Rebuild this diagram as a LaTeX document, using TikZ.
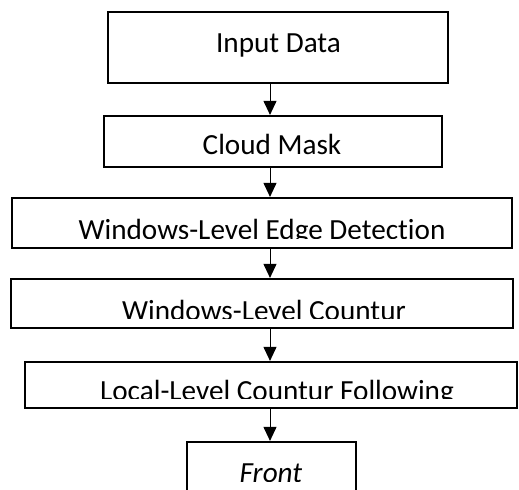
\documentclass[tikz,border=0pt]{standalone}
\usepackage{fontspec}
\setmainfont[Ligatures={NoCommon}]{Carlito}
\usetikzlibrary{arrows.meta}
\usetikzlibrary{fit}

\tikzset{
  riquadro/.style={draw, line width=1.1pt, inner sep=0pt},
  testo/.style={anchor=base, inner sep=0pt, font=\fontsize{14.6pt}{17pt}\selectfont},
  freccia/.style={-{Triangle[length=7pt,width=6.5pt]}, line width=0.5pt}
}

\begin{document}
\begin{tikzpicture}[x=0.5pt,y=-0.5pt]

\def\blocco(#1,#2,#3,#4,#5,#6,#7,#8){ % nome, angolo alto-sinistra, angolo basso-destra, base del testo, testo
\coordinate (#1-no) at (#2,#3);
\coordinate (#1-se) at (#4,#5);
%Traccia il riquadro
\node[riquadro, fit=(#1-no)(#1-se)] (#1) {};
%Il testo viene tagliato 10px sopra il bordo inferiore (come nella casella di testo)
\begin{scope}
\clip (#2,#3) rectangle (#4,{#5-10});
\node[testo] (#1-t) at (#6,#7) {#8};
\end{scope}}

%Fissa i margini (pixel del disegno)
\path[use as bounding box, fill=white] (0,0) rectangle (519,489);

%Disegna i blocchi
\blocco(b1,108,12,448,83,278.5,52,Input Data)
\blocco(b2,104,116,442,167,272,154,Cloud Mask)
\blocco(b3,12,198,512,248,262,239,Windows-Level Edge Detection)
\blocco(b4,11,279,513,328,264,320,Windows-Level Countur)
\blocco(b5,25,362,517,408,277,400,Local-Level Countur Following)
\blocco(b6,187,442,356,491,271,482,\textit{Front})

%Disegna le frecce
\coordinate (asse) at (270,0);
\foreach \a/\b in {b1/b2,b2/b3,b3/b4,b4/b5,b5/b6}
  \draw[freccia] (\a.south -| asse) -- (\b.north -| asse);

\end{tikzpicture}
\end{document}
